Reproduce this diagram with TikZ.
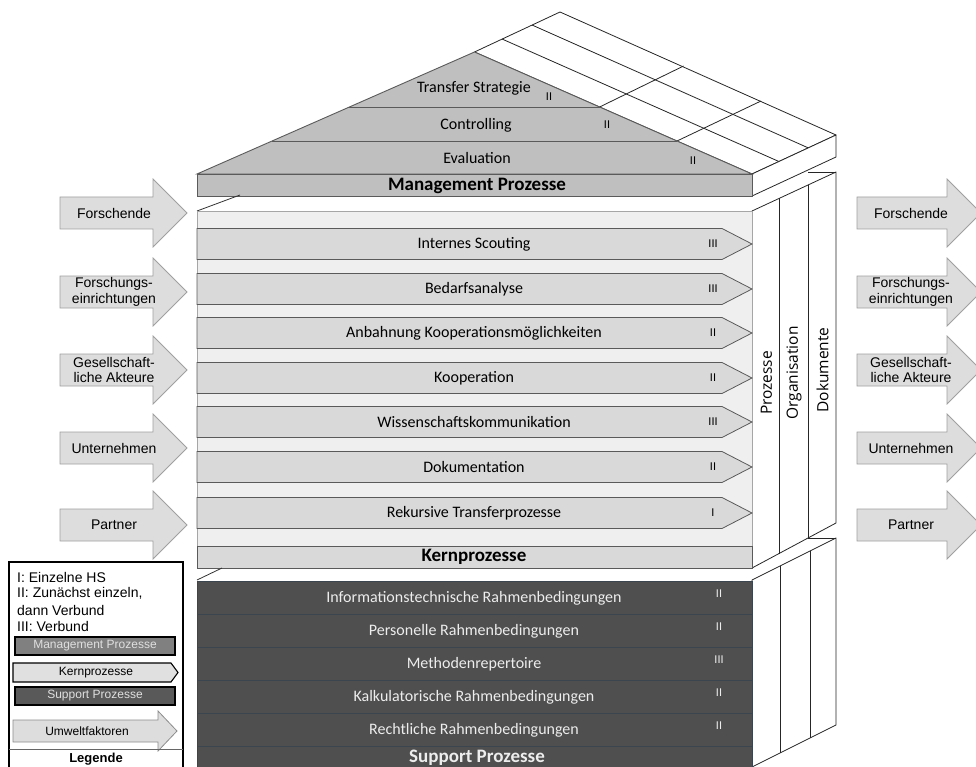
\documentclass[tikz,border=0pt]{standalone}
\usepackage{fontspec}
\setmainfont{Carlito}
\newfontfamily\arialf{Liberation Sans}
\newfontfamily\pillarf{Open Sans}
\definecolor{roofgray}{HTML}{BFBFBF}
\definecolor{edgegray}{HTML}{5A5A5A}
\definecolor{kernbg}{HTML}{EFEFEF}
\definecolor{kernfill}{HTML}{D9D9D9}
\definecolor{suppfill}{HTML}{4F4F4F}
\definecolor{suppline}{HTML}{3A4550}
\definecolor{supptext}{HTML}{EDEDED}
\definecolor{sidefill}{HTML}{DDDDDD}
\definecolor{sideedge}{HTML}{A0A0A0}
\begin{document}
\begin{tikzpicture}[x=1pt,y=-1pt,
  face/.style={fill=white,draw=black!85,line width=0.8pt,line join=round},
  thin/.style={draw=black!85,line width=0.8pt},
  gable/.style={fill=roofgray,draw=edgegray,line width=0.9pt},
  kchev/.style={fill=kernfill,draw=edgegray,line width=0.8pt},
  sbox/.style={fill=suppfill,draw=suppline,line width=0.9pt},
  sidearrow/.style={fill=sidefill,draw=sideedge,line width=0.8pt},
  lbl/.style={font=\fontsize{16}{18}\selectfont,inner sep=0pt},
  num/.style={font=\fontsize{12}{14}\selectfont,inner sep=0pt},
  ttl/.style={font=\fontsize{19}{21}\selectfont\bfseries,inner sep=0pt},
  slbl/.style={font=\arialf\fontsize{14}{15.5}\selectfont,align=center,inner sep=0pt},
  leg/.style={font=\arialf\fontsize{14}{16}\selectfont,inner sep=0pt,anchor=west},
  legi/.style={font=\arialf\fontsize{12}{14}\selectfont,inner sep=0pt},
  pil/.style={font=\pillarf\fontsize{15.5}{17}\selectfont,rotate=90,inner sep=0pt},
]
\useasboundingbox (0,0) rectangle (976,767);

% ---------- roof top face ----------
\coordinate (A) at (474.5,52);
\coordinate (B) at (752,174);
\coordinate (A3) at (560,12);
\coordinate (B3) at (836,135);
\filldraw[face] (A) -- (A3) -- (B3) -- (B) -- cycle;
\draw[thin] (502,39) -- (778.9,161.5);
\draw[thin] (532,25) -- (808.3,147.9);
\draw[thin] (599.6,107) -- (683.6,66);
\draw[thin] (677,141) -- (761,101);

% management side face
\filldraw[face] (752,174) -- (836,135) -- (836,157) -- (752,196) -- cycle;

% ---------- gable ----------
\filldraw[gable] (197,174) -- (A) -- (B) -- cycle;
\draw[edgegray,line width=0.9pt] (349,107) -- (599.6,107);
\draw[edgegray,line width=0.9pt] (272,141) -- (677,141);
\node[lbl] (ts) at (474,88) {Transfer Strategie};
\node[num] (tsn) at (549,97) {II};
\node[lbl] (co) at (476,125) {Controlling};
\node[num] (con) at (607,125) {II};
\node[lbl] (ev) at (477,158) {Evaluation};
\node[num] (evn) at (693,161) {II};
\filldraw[gable] (197,174) rectangle (752,196);
\node[ttl] (mp) at (477,185.5) {Management Prozesse};

% ---------- kern side face ----------
\filldraw[face] (752,211) -- (836,172) -- (836,523) -- (752,568) -- cycle;
\draw[thin] (779,198.5) -- (779,553.5);
\draw[thin] (808,185) -- (808,538);
\draw[thin] (808,172) -- (836,172);
\node[pil] (p1) at (766.5,383) {Prozesse};
\node[pil] (p2) at (794,373) {Organisation};
\node[pil] (p3) at (822.5,370) {Dokumente};

% ---------- kern box ----------
\draw[black!80,line width=0.8pt] (197,211) -- (240,195);
\filldraw[fill=kernbg,draw=black!35,line width=0.8pt] (197,211) rectangle (752,568);
\foreach \c/\t/\n [count=\i] in {244/Internes Scouting/III,289/Bedarfsanalyse/III,333/Anbahnung Kooperationsmöglichkeiten/II,378/Kooperation/II,422/Wissenschaftskommunikation/III,467/Dokumentation/II,513/Rekursive Transferprozesse/I}{
  \draw[kchev] (197,{\c-15.5}) -- (722,{\c-15.5}) -- (752,\c) -- (722,{\c+15.5}) -- (197,{\c+15.5}) -- cycle;
  \node[lbl] (k\i) at (474,\c) {\t};
  \node[num] (kn\i) at (713,\c) {\n};
}
\filldraw[fill=kernfill,draw=edgegray,line width=0.8pt] (197,546) rectangle (752,568);
\node[ttl] (kp) at (474,557) {Kernprozesse};

% ---------- support side face ----------
\filldraw[face] (752,580) -- (836,538) -- (836,725) -- (752,767) -- cycle;
\draw[thin] (780,566) -- (780,753);
\draw[thin] (810,551) -- (810,738);
\draw[thin] (808,538) -- (836,538);

% ---------- support ----------
\draw[black!80,line width=0.8pt] (197,580) -- (222,568);
\foreach \top/\t/\n [count=\i] in {581/Informationstechnische Rahmenbedingungen/II,614/Personelle Rahmenbedingungen/II,647/Methodenrepertoire/III,680/Kalkulatorische Rahmenbedingungen/II,713/Rechtliche Rahmenbedingungen/II}{
  \filldraw[sbox] (197,\top) rectangle (752,{\top+33});
  \node[lbl,text=supptext] (s\i) at (474,{\top+17.5}) {\t};
  \node[num,text=supptext] (sn\i) at (719,{\top+13}) {\n};
}
\filldraw[sbox] (197,746) rectangle (752,775);
\node[ttl,text=supptext] (sp) at (477,758) {Support Prozesse};

% ---------- side arrows ----------
\foreach \c/\t [count=\i] in {213/Forschende,292/{Forschungs-\\einrichtungen},370/{Gesellschaft-\\liche Akteure},448/Unternehmen,525/Partner}{
  \filldraw[sidearrow] (60,{\c-16}) -- (153,{\c-16}) -- (153,{\c-34}) -- (187,\c) -- (153,{\c+34}) -- (153,{\c+16}) -- (60,{\c+16}) -- cycle;
  \node[slbl] (l\i) at (114,\c) {\t};
  \filldraw[sidearrow] (857,{\c-16}) -- (947,{\c-16}) -- (947,{\c-34}) -- (981,\c) -- (947,{\c+34}) -- (947,{\c+16}) -- (857,{\c+16}) -- cycle;
  \node[slbl] (r\i) at (911,\c) {\t};
}

% ---------- legend ----------
\filldraw[fill=white,draw=black,line width=1.1pt] (9,562) rectangle (183,780);
\node[leg] (g1) at (17,577) {I: Einzelne HS};
\node[leg] (g2) at (17,593.5) {II: Zunächst einzeln,};
\node[leg] (g3) at (17,610) {dann Verbund};
\node[leg] (g4) at (17,626.5) {III: Verbund};
\filldraw[fill=black!50,draw=black,line width=1.1pt] (15,637) rectangle (175,655);
\node[legi,text=black!12] (gm) at (95,646) {Management Prozesse};
\filldraw[fill=black!12,draw=black,line width=1.1pt] (13,663) -- (171,663) -- (178,672.5) -- (171,682) -- (13,682) -- cycle;
\node[legi] (gk) at (96,672.5) {Kernprozesse};
\filldraw[fill=black!65,draw=black,line width=1.1pt] (15,687) rectangle (175,705);
\node[legi,text=black!12] (gs) at (95,696) {Support Prozesse};
\filldraw[sidearrow,draw=black!45] (13,720) -- (158,720) -- (158,711) -- (177,731) -- (158,751) -- (158,742) -- (13,742) -- cycle;
\node[legi] (gu) at (87,731) {Umweltfaktoren};
\draw[black!60,line width=0.8pt] (9,749) -- (183,749);
\node[font=\arialf\fontsize{13}{15}\selectfont\bfseries,inner sep=0pt] (gl) at (96,759) {Legende};
\end{tikzpicture}
\end{document}
